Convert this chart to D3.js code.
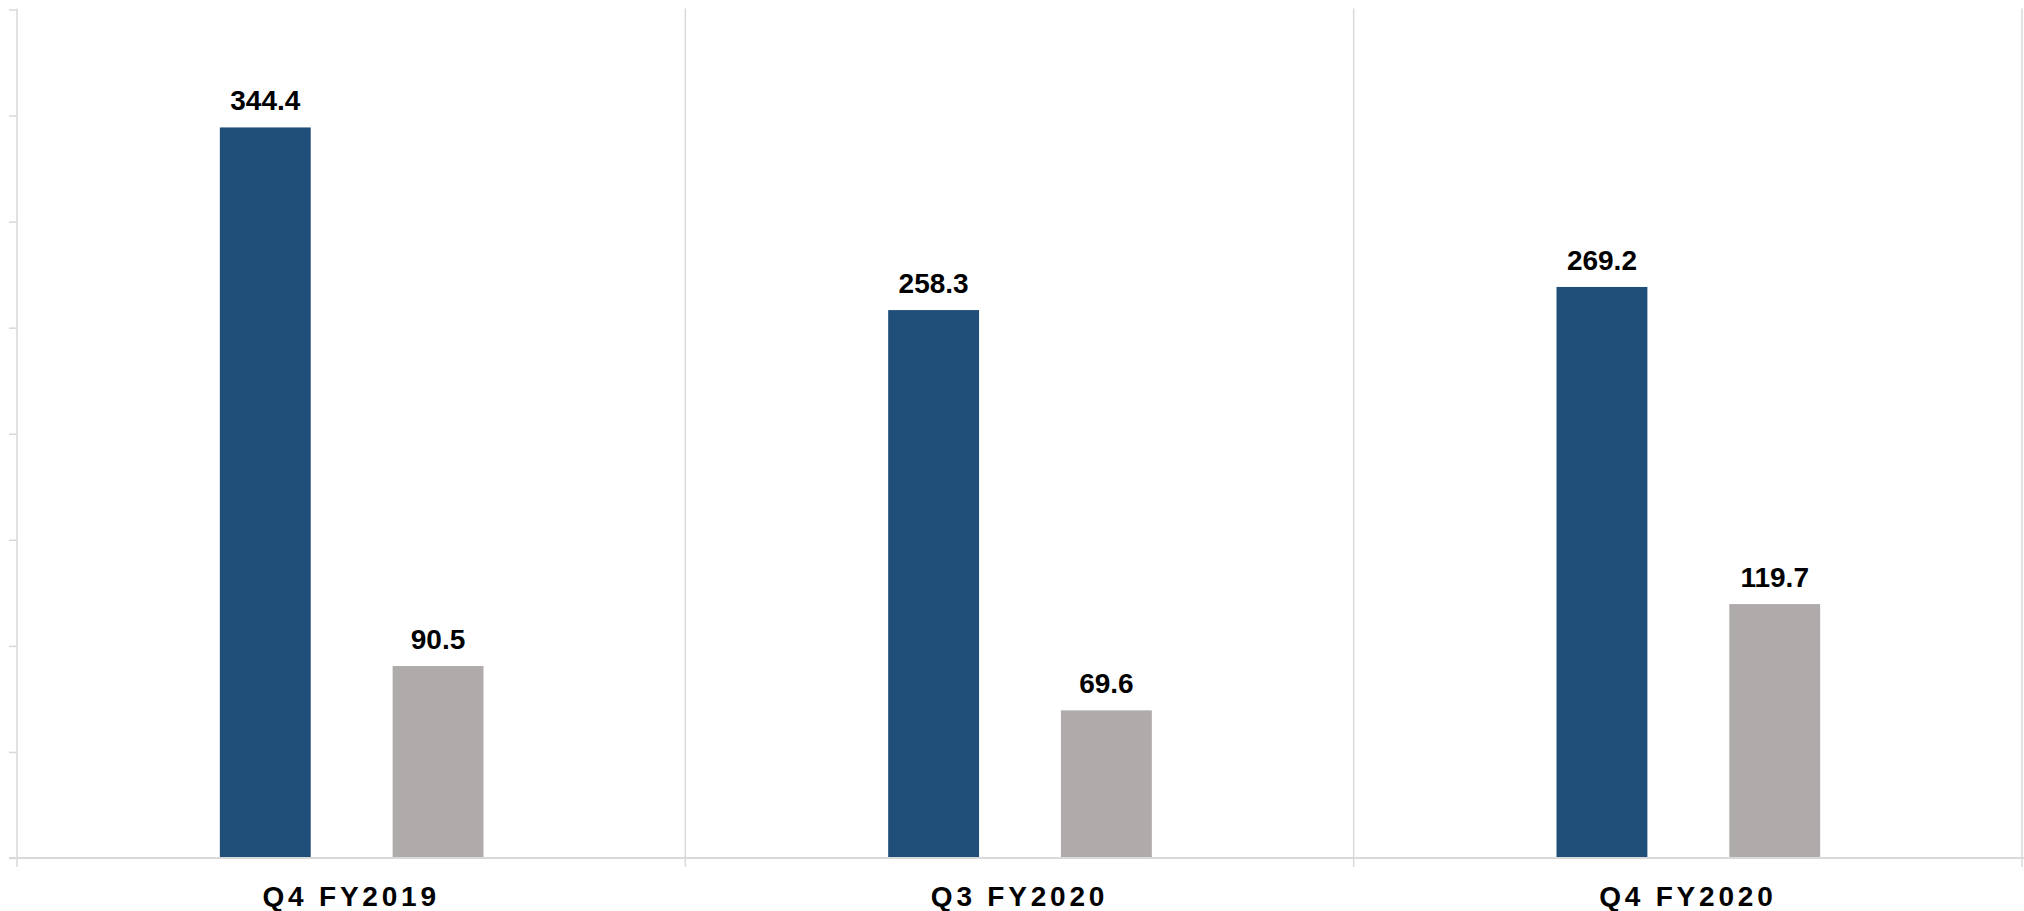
<!DOCTYPE html>
<html>
<head>
<meta charset="utf-8">
<script src="https://cdn.jsdelivr.net/npm/d3@7"></script>
<style>
  html, body { margin: 0; padding: 0; background: #fff; }
  svg { display: block; }
</style>
</head>
<body>
<svg id="chart" width="2024" height="911"></svg>
<script>
const categories = ["Q4 FY2019", "Q3 FY2020", "Q4 FY2020"];
const seriesNames = ["Series A", "Series B"];
const seriesA = [344.4, 258.3, 269.2];
const seriesB = [90.5, 69.6, 119.7];
const yTicks = [0, 50, 100, 150, 200, 250, 300, 350, 400];
const colors = ["#1F4E79", "#AFABAB"];

const W = 2024, H = 911;
const margin = { left: 17, right: 2, top: 9.5, bottom: 53 };
const svg = d3.select("#chart");

const x = d3.scaleBand().domain(categories).range([margin.left, W - margin.right]).padding(0);
const bw = x.bandwidth();
const xs = d3.scaleBand().domain(seriesNames).range([bw * 0.3035, bw * 0.698]).paddingInner(0.474).paddingOuter(0);
const y = d3.scaleLinear().domain([0, 400]).range([H - margin.bottom, margin.top]);

const gridColor = "#d9d9d9";

// vertical gridlines at category boundaries
const bounds = categories.map(c => x(c)).concat([x(categories[categories.length - 1]) + bw]);
svg.append("g").selectAll("line").data(bounds.slice(1)).join("line")
  .attr("x1", d => Math.min(d, W - 1.5)).attr("x2", d => Math.min(d, W - 1.5))
  .attr("y1", y(400) - 1).attr("y2", y(0) + 9)
  .attr("stroke", gridColor).attr("stroke-width", 1.5);

// y axis (no labels)
const yAxis = d3.axisLeft(y).tickValues(yTicks).tickFormat("").tickSize(8).tickSizeOuter(0);
const gy = svg.append("g").attr("transform", `translate(${margin.left},0)`).call(yAxis);
gy.select(".domain").attr("stroke", gridColor).attr("stroke-width", 1.5)
  .attr("d", `M0,${y(400) - 1}V${y(0) + 9}`);
gy.selectAll(".tick line").attr("stroke", gridColor).attr("stroke-width", 1.5);

// bars
const data = categories.map((c, i) => ({ cat: c, vals: [seriesA[i], seriesB[i]] }));
const groups = svg.append("g").selectAll("g").data(data).join("g")
  .attr("transform", d => `translate(${x(d.cat)},0)`);

groups.selectAll("rect").data(d => d.vals.map((v, j) => ({ v, s: seriesNames[j], j }))).join("rect")
  .attr("x", d => xs(d.s)).attr("width", xs.bandwidth())
  .attr("y", d => y(d.v)).attr("height", d => y(0) - y(d.v))
  .attr("fill", d => colors[d.j]);

groups.selectAll("text").data(d => d.vals.map((v, j) => ({ v, s: seriesNames[j], j }))).join("text")
  .attr("x", d => xs(d.s) + xs.bandwidth() / 2)
  .attr("y", d => y(d.v) - 17)
  .attr("text-anchor", "middle")
  .attr("font-family", "'Liberation Sans', Arial, sans-serif")
  .attr("font-weight", "bold")
  .attr("font-size", 28)
  .attr("fill", "#000")
  .text(d => d.v.toFixed(1));

// baseline
svg.append("line")
  .attr("x1", margin.left - 8).attr("x2", W)
  .attr("y1", y(0)).attr("y2", y(0))
  .attr("stroke", gridColor).attr("stroke-width", 2);

// x axis labels
const xAxis = d3.axisBottom(x).tickSize(0).tickPadding(0);
const gx = svg.append("g").attr("transform", `translate(0,${y(0)})`).call(xAxis);
gx.select(".domain").remove();
gx.selectAll(".tick text")
  .attr("y", 48).attr("dy", 0)
  .attr("font-family", "'Liberation Sans', Arial, sans-serif")
  .attr("font-weight", "bold")
  .attr("font-size", 28)
  .attr("letter-spacing", "3.8px")
  .attr("fill", "#000");
</script>
</body>
</html>
